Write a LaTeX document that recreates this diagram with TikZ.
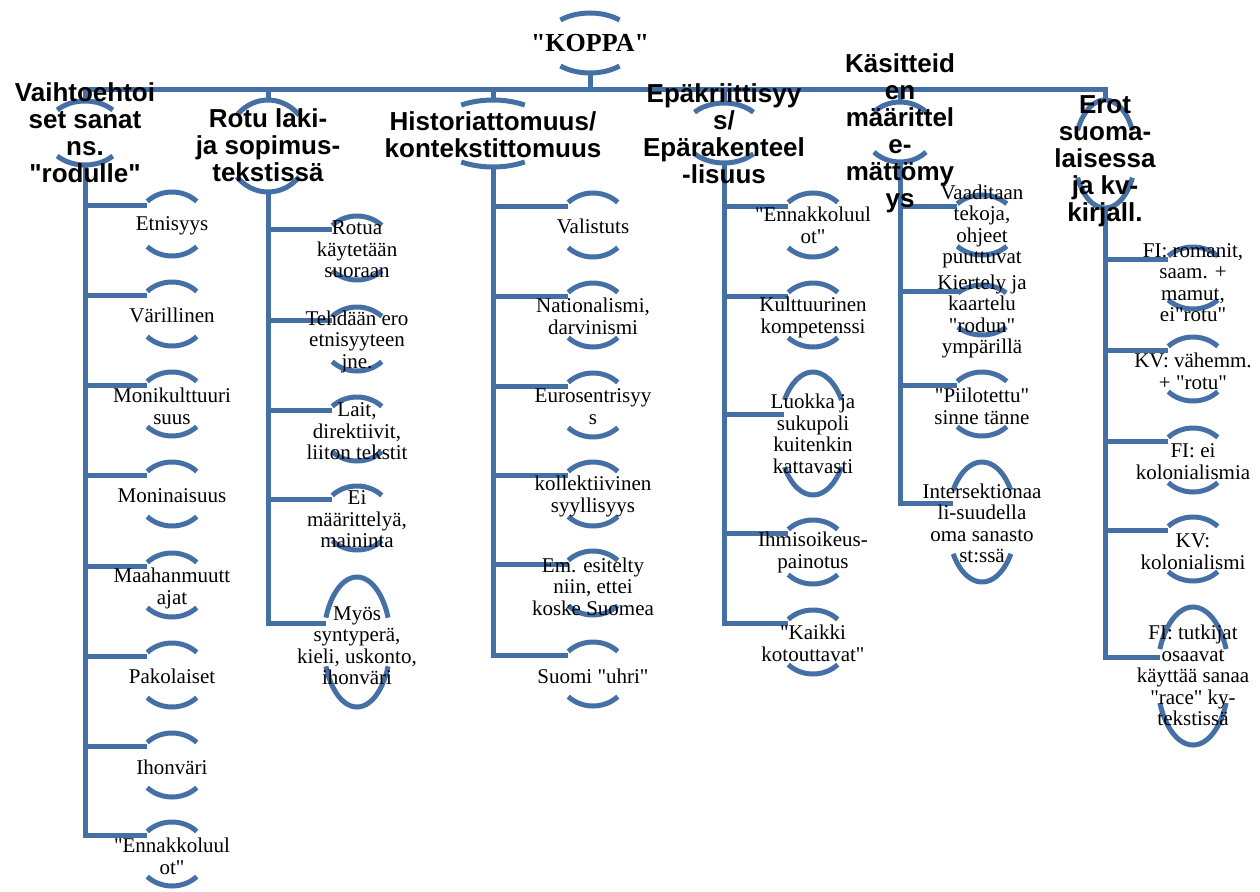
\documentclass[tikz,border=0pt]{standalone}
\usepackage{fontspec}
\setmainfont{Liberation Serif}[Ligatures=TeXOff]
\newfontfamily\otsfont{Liberation Sans}
\definecolor{sininen}{RGB}{68,112,165}
\tikzset{
  viiva/.style={draw=sininen, line width=5pt},
  otsikko/.style={font=\otsfont\bfseries\fontsize{26}{27}\selectfont, align=center, inner sep=0pt},
  lapsi/.style={font=\fontsize{21}{21.5}\selectfont, align=center, inner sep=0pt, yshift=-1.5pt},
  koppateksti/.style={font=\bfseries\fontsize{26}{27}\selectfont, inner sep=0pt}
}
% kaaret: nimi, x, y, x-sade, y-sade, kulma
\newcommand{\kaaret}[6]{%
  \coordinate (#1) at (#2,#3);
  \draw[viiva] (#1) ++(#6:#4pt and #5pt) arc[start angle=#6, end angle=180-#6, x radius=#4pt, y radius=#5pt] coordinate (#1-e);
  \draw[viiva] (#1) ++(180+#6:#4pt and #5pt) arc[start angle=180+#6, end angle=360-#6, x radius=#4pt, y radius=#5pt];
  \path (#1) ++(0pt,#5pt) coordinate (#1-y);
  \path (#1) ++(0pt,-#5pt) coordinate (#1-a);
  \path (#1) ++(0pt,19pt) coordinate (#1-k);
  \coordinate (#1-v) at (#1-e |- #1-k);
}

\begin{document}
\begin{tikzpicture}[x=1pt, y=-1pt]
\useasboundingbox (0,0) rectangle (1260,891);

% kaaret
\kaaret{koppa}{590}{43}{46}{30}{50}
\kaaret{o1}{85}{133}{40}{32}{46}
\kaaret{o2}{268}{146}{42}{46}{42}
\kaaret{o3}{493}{133.5}{60}{33.5}{58}
\kaaret{o4}{724}{133}{41}{30}{44}
\kaaret{o5}{900}{132}{35}{30}{42}
\kaaret{o6}{1105}{154}{30.5}{54}{26}

\kaaret{l11}{172}{224}{35}{32}{45}
\kaaret{l12}{172}{314}{35}{32}{45}
\kaaret{l13}{172}{404}{35}{32}{45}
\kaaret{l14}{172}{494}{35}{32}{45}
\kaaret{l15}{172}{585}{35}{32}{45}
\kaaret{l16}{172}{675}{35}{32}{45}
\kaaret{l17}{172}{765}{35}{32}{45}
\kaaret{l18}{172}{854}{35}{32}{45}

\kaaret{l21}{357}{248}{35}{32}{45}
\kaaret{l22}{357}{339}{35}{32}{45}
\kaaret{l23}{357}{429}{35}{32}{45}
\kaaret{l24}{357}{518}{35}{32}{45}
\kaaret{l25}{357}{642}{33.5}{65}{22}

\kaaret{l31}{593}{225}{35}{32}{45}
\kaaret{l32}{593}{315}{35}{32}{45}
\kaaret{l33}{593}{405}{35}{32}{45}
\kaaret{l34}{593}{494}{35}{32}{45}
\kaaret{l35}{593}{583}{35}{32}{45}
\kaaret{l36}{593}{674}{35}{32}{45}

\kaaret{l41}{813}{225}{35}{32}{45}
\kaaret{l42}{813}{315}{35}{32}{45}
\kaaret{l43}{813}{433.5}{34}{61.5}{33}
\kaaret{l44}{813}{552}{35}{32}{45}
\kaaret{l45}{813}{642}{35}{32}{45}

\kaaret{l51}{982}{225}{35}{30}{45}
\kaaret{l52}{982}{310}{33}{25}{43}
\kaaret{l53}{982}{404}{35}{32}{45}
\kaaret{l54}{982}{522}{34}{60}{32}

\kaaret{l61}{1193}{278}{35}{31}{45}
\kaaret{l62}{1193}{369}{35}{32}{45}
\kaaret{l63}{1193}{460}{35}{32}{45}
\kaaret{l64}{1193}{549}{35}{32}{45}
\kaaret{l65}{1193}{676}{36}{69}{23}

% yhdysviivat
\coordinate (palkki) at (590,89);
\draw[viiva] (koppa-a) -- (palkki);
\draw[viiva] (o1-y) |- (palkki);
\draw[viiva] (o2-y) |- (palkki);
\draw[viiva] (o3-y) |- (palkki);
\draw[viiva] (o4-y) |- (palkki);
\draw[viiva] (o5-y) |- (palkki);
\draw[viiva] (o6-y) |- (palkki);

\draw[viiva] (o1-a) |- (l11-v);
\draw[viiva] (o1-a) |- (l12-v);
\draw[viiva] (o1-a) |- (l13-v);
\draw[viiva] (o1-a) |- (l14-v);
\draw[viiva] (o1-a) |- (l15-v);
\draw[viiva] (o1-a) |- (l16-v);
\draw[viiva] (o1-a) |- (l17-v);
\draw[viiva] (o1-a) |- (l18-v);

\draw[viiva] (o2-a) |- (l21-v);
\draw[viiva] (o2-a) |- (l22-v);
\draw[viiva] (o2-a) |- (l23-v);
\draw[viiva] (o2-a) |- (l24-v);
\draw[viiva] (o2-a) |- (l25-v);

\draw[viiva] (o3-a) |- (l31-v);
\draw[viiva] (o3-a) |- (l32-v);
\draw[viiva] (o3-a) |- (l33-v);
\draw[viiva] (o3-a) |- (l34-v);
\draw[viiva] (o3-a) |- (l35-v);
\draw[viiva] (o3-a) |- (l36-v);

\draw[viiva] (o4-a) |- (l41-v);
\draw[viiva] (o4-a) |- (l42-v);
\draw[viiva] (o4-a) |- (l43-v);
\draw[viiva] (o4-a) |- (l44-v);
\draw[viiva] (o4-a) |- (l45-v);

\draw[viiva] (o5-a) |- (l51-v);
\draw[viiva] (o5-a) |- (l52-v);
\draw[viiva] (o5-a) |- (l53-v);
\draw[viiva] (o5-a) |- (l54-v);

\draw[viiva] (o6-a) |- (l61-v);
\draw[viiva] (o6-a) |- (l62-v);
\draw[viiva] (o6-a) |- (l63-v);
\draw[viiva] (o6-a) |- (l64-v);
\draw[viiva] (o6-a) |- (l65-v);

% tekstit
\node[koppateksti] (koppat) at (590,43) {"KOPPA"};
\node[otsikko] (o1t) at (85,132.5) {Vaihtoehtoi\\set sanat\\ns.\\"rodulle"};
\node[otsikko] (o2t) at (268,145) {Rotu laki-\\ja sopimus-\\tekstissä};
\node[otsikko] (o3t) at (493,135) {Historiattomuus/\\kontekstittomuus};
\node[otsikko] (o4t) at (724,134) {Epäkriittisyy\\s/\\Epärakenteel\\-lisuus};
\node[otsikko] (o5t) at (900,133.5) {Käsitteid\\en\\määrittel\\e-\\mättömy\\ys};
\node[otsikko] (o6t) at (1105,161.5) {Erot\\suoma-\\laisessa\\ja kv-\\kirjall.};

\node[lapsi] (l11t) at (172,224) {Etnisyys};
\node[lapsi] (l12t) at (172,314) {Värillinen};
\node[lapsi] (l13t) at (172,405) {Monikulttuuri\\suus};
\node[lapsi] (l14t) at (172,494) {Moninaisuus};
\node[lapsi] (l15t) at (172,587) {Maahanmuutt\\ajat};
\node[lapsi] (l16t) at (172,675) {Pakolaiset};
\node[lapsi] (l17t) at (172,766) {Ihonväri};
\node[lapsi] (l18t) at (172,855) {"Ennakkoluul\\ot"};

\node[lapsi] (l21t) at (357,248) {Rotua\\käytetään\\suoraan};
\node[lapsi] (l22t) at (357,340) {Tehdään ero\\etnisyyteen\\jne.};
\node[lapsi] (l23t) at (357,430) {Lait,\\direktiivit,\\liiton tekstit};
\node[lapsi] (l24t) at (357,518) {Ei\\määrittelyä,\\maininta};
\node[lapsi] (l25t) at (357,644) {Myös\\syntyperä,\\kieli, uskonto,\\ihonväri};

\node[lapsi] (l31t) at (593,225) {Valistuts};
\node[lapsi] (l32t) at (593,315) {Nationalismi,\\darvinismi};
\node[lapsi] (l33t) at (593,405) {Eurosentrisyy\\s};
\node[lapsi] (l34t) at (593,495) {kollektiivinen\\syyllisyys};
\node[lapsi] (l35t) at (593,585) {Em. esitelty\\niin, ettei\\koske Suomea};
\node[lapsi] (l36t) at (593,675) {Suomi "uhri"};

\node[lapsi] (l41t) at (813,224) {"Ennakkoluul\\ot"};
\node[lapsi] (l42t) at (813,316) {Kulttuurinen\\kompetenssi};
\node[lapsi] (l43t) at (813,432.5) {Luokka ja\\sukupoli\\kuitenkin\\kattavasti};
\node[lapsi] (l44t) at (813,551) {Ihmisoikeus-\\painotus};
\node[lapsi] (l45t) at (813,642) {"Kaikki\\kotouttavat"};

\node[lapsi] (l51t) at (982,225) {Vaaditaan\\tekoja,\\ohjeet\\puuttuvat};
\node[lapsi] (l52t) at (982,315) {Kiertely ja\\kaartelu\\"rodun"\\ympärillä};
\node[lapsi] (l53t) at (982,405) {"Piilotettu"\\sinne tänne};
\node[lapsi] (l54t) at (982,522) {Intersektionaa\\li-suudella\\oma sanasto\\st:ssä};

\node[lapsi] (l61t) at (1193,281) {FI: romanit,\\saam. +\\mamut,\\ei"rotu"};
\node[lapsi] (l62t) at (1193,370) {KV: vähemm.\\+ "rotu"};
\node[lapsi] (l63t) at (1193,460) {FI: ei\\kolonialismia};
\node[lapsi] (l64t) at (1193,550) {KV:\\kolonialismi};
\node[lapsi] (l65t) at (1193,674) {FI: tutkijat\\osaavat\\käyttää sanaa\\"race" ky-\\tekstissä};
\end{tikzpicture}
\end{document}
